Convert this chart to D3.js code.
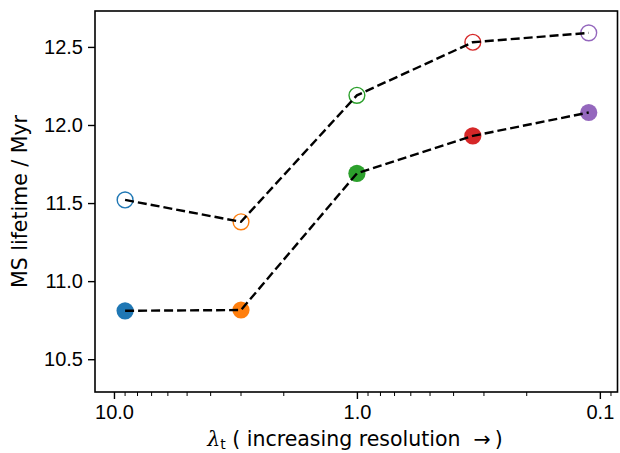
<!DOCTYPE html>
<html>
<head>
<meta charset="utf-8">
<script src="https://cdn.jsdelivr.net/npm/d3@7"></script>
<style>
  body { margin: 0; background: #fff; }
  svg { font-family: "DejaVu Sans", sans-serif; }
</style>
</head>
<body>
<div class="chart"></div>
<script>
// lambda_t values (resolution steps)
const lambdas = [9, 3, 1, 1 / 3, 1 / 9];
const colors = ['#1f77b4', '#ff7f0e', '#2ca02c', '#d62728', '#9467bd'];
// MS lifetime, open markers (upper) and filled markers (lower)
const openVals = [11.52, 11.38, 12.19, 12.53, 12.59];
const filledVals = [10.81, 10.815, 11.69, 11.93, 12.08];
const xTickVals = [10, 1, 0.1];
const xTickLabels = ['10.0', '1.0', '0.1'];
const yTickVals = [10.5, 11.0, 11.5, 12.0, 12.5];

const width = 620, height = 453;
const margin = {top: 11, right: 2.5, bottom: 61, left: 95};
const fs = 20;

const svg = d3.select('.chart').append('svg')
  .attr('width', width)
  .attr('height', height);

const x = d3.scaleLog()
  .domain([11.97, 0.0846])
  .range([margin.left, width - margin.right]);

const y = d3.scaleLinear()
  .domain([10.29, 12.73])
  .range([height - margin.bottom, margin.top]);

// minor log ticks
const minor = x.ticks().filter(v => !xTickVals.some(t => Math.abs(t - v) < 1e-9));

const xAxis = g => g
  .attr('transform', `translate(0, ${height - margin.bottom})`)
  .call(d3.axisBottom(x).tickValues(xTickVals)
    .tickFormat((d, i) => xTickLabels[i]).tickSize(7).tickPadding(6).tickSizeOuter(0))
  .call(g => g.select('.domain').remove())
  .call(g => g.selectAll('.tick line').attr('stroke-width', 1.4))
  .call(g => g.selectAll('.tick text').attr('font-size', fs).attr('fill', '#000'))
  .call(g => g.selectAll('.minor').data(minor).join('line')
    .attr('class', 'minor')
    .attr('x1', d => x(d)).attr('x2', d => x(d))
    .attr('y1', 0).attr('y2', 4)
    .attr('stroke', '#000').attr('stroke-width', 1));

const yAxis = g => g
  .attr('transform', `translate(${margin.left}, 0)`)
  .call(d3.axisLeft(y).tickValues(yTickVals).tickFormat(d3.format('.1f'))
    .tickSize(7).tickPadding(5).tickSizeOuter(0))
  .call(g => g.select('.domain').remove())
  .call(g => g.selectAll('.tick line').attr('stroke-width', 1.4))
  .call(g => g.selectAll('.tick text').attr('font-size', fs).attr('fill', '#000'));

svg.append('g').call(xAxis);
svg.append('g').call(yAxis);

// markers
svg.append('g')
  .selectAll('circle')
  .data(lambdas)
  .join('circle')
    .attr('cx', d => x(d))
    .attr('cy', (d, i) => y(filledVals[i]))
    .attr('r', 8.6)
    .attr('fill', (d, i) => colors[i]);

svg.append('g')
  .selectAll('circle')
  .data(lambdas)
  .join('circle')
    .attr('cx', d => x(d))
    .attr('cy', (d, i) => y(openVals[i]))
    .attr('r', 7.9)
    .attr('fill', '#fff')
    .attr('stroke', (d, i) => colors[i])
    .attr('stroke-width', 1.4);

// dashed lines on top
const line = vals => d3.line()
  .x(d => x(d))
  .y((d, i) => y(vals[i]))(lambdas);

[openVals, filledVals].forEach(vals => {
  svg.append('path')
    .attr('d', line(vals))
    .attr('fill', 'none')
    .attr('stroke', '#000')
    .attr('stroke-width', 2.4)
    .attr('stroke-dasharray', '9,4');
});

// frame
svg.append('rect')
  .attr('x', margin.left)
  .attr('y', margin.top)
  .attr('width', width - margin.left - margin.right)
  .attr('height', height - margin.top - margin.bottom)
  .attr('fill', 'none')
  .attr('stroke', '#000')
  .attr('stroke-width', 1.6);

// axis labels
const xl = svg.append('text')
  .attr('x', 355)
  .attr('y', 446)
  .attr('text-anchor', 'middle')
  .attr('font-size', 20.5);
xl.append('tspan').attr('font-family', 'DejaVu Serif').attr('font-style', 'italic').text('λ');
xl.append('tspan').attr('font-size', 14).attr('dy', 3).text('t');
xl.append('tspan').attr('dy', -3).text(' ( increasing resolution \u00a0\u2192\u2009)');

svg.append('text')
  .attr('transform', `translate(27, ${(margin.top + height - margin.bottom) / 2}) rotate(-90)`)
  .attr('text-anchor', 'middle')
  .attr('font-size', 20.5)
  .text('MS lifetime / Myr');
</script>
</body>
</html>
